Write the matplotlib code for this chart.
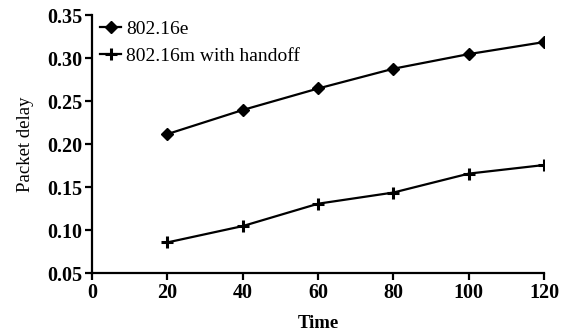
import matplotlib
matplotlib.use("Agg")
import matplotlib.pyplot as plt

# Data
time = [20, 40, 60, 80, 100, 120]
delay_e = [0.212, 0.240, 0.265, 0.288, 0.305, 0.319]
delay_m = [0.086, 0.105, 0.131, 0.144, 0.166, 0.176]
xticks = [0, 20, 40, 60, 80, 100, 120]
yticks = [0.05, 0.10, 0.15, 0.20, 0.25, 0.30, 0.35]

plt.rcParams['font.family'] = ['Liberation Serif', 'DejaVu Serif']

fig = plt.figure(figsize=(5.65, 3.35), dpi=100)
ax = fig.add_axes([0.163, 0.184, 0.800, 0.770])

ax.plot(time, delay_e, '-D', color='black', lw=1.6, ms=6.5, label='802.16e')
ax.plot(time, delay_m, '-+', color='black', lw=1.6, ms=9, mew=2.2,
        label='802.16m with handoff')

ax.set_xlim(0, 120)
ax.set_ylim(0.05, 0.35)
ax.set_xticks(xticks)
ax.set_yticks(yticks)
ax.set_yticklabels(['%.2f' % v for v in yticks])

for s in ['top', 'right']:
    ax.spines[s].set_visible(False)
for s in ['left', 'bottom']:
    ax.spines[s].set_linewidth(1.6)

ax.tick_params(direction='out', length=5, width=1.6, labelsize=14.5, pad=2)
for lab in ax.get_xticklabels() + ax.get_yticklabels():
    lab.set_fontweight('bold')

ax.set_xlabel('Time', fontsize=13.5, fontweight='bold')
ax.set_ylabel('Packet delay', fontsize=13.5)
ax.xaxis.set_label_coords(0.5, -0.194, transform=ax.transAxes)
ax.yaxis.set_label_coords(-0.147, 0.5, transform=ax.transAxes)
ax.xaxis.label.set_va('center')
ax.yaxis.label.set_va('center')

ax.legend(loc='upper left', frameon=False, fontsize=14, handlelength=1.1,
          handletextpad=0.25, labelspacing=0.45, borderaxespad=0.0,
          bbox_to_anchor=(0.0, 1.01))

fig.savefig('out.png', dpi=100)
